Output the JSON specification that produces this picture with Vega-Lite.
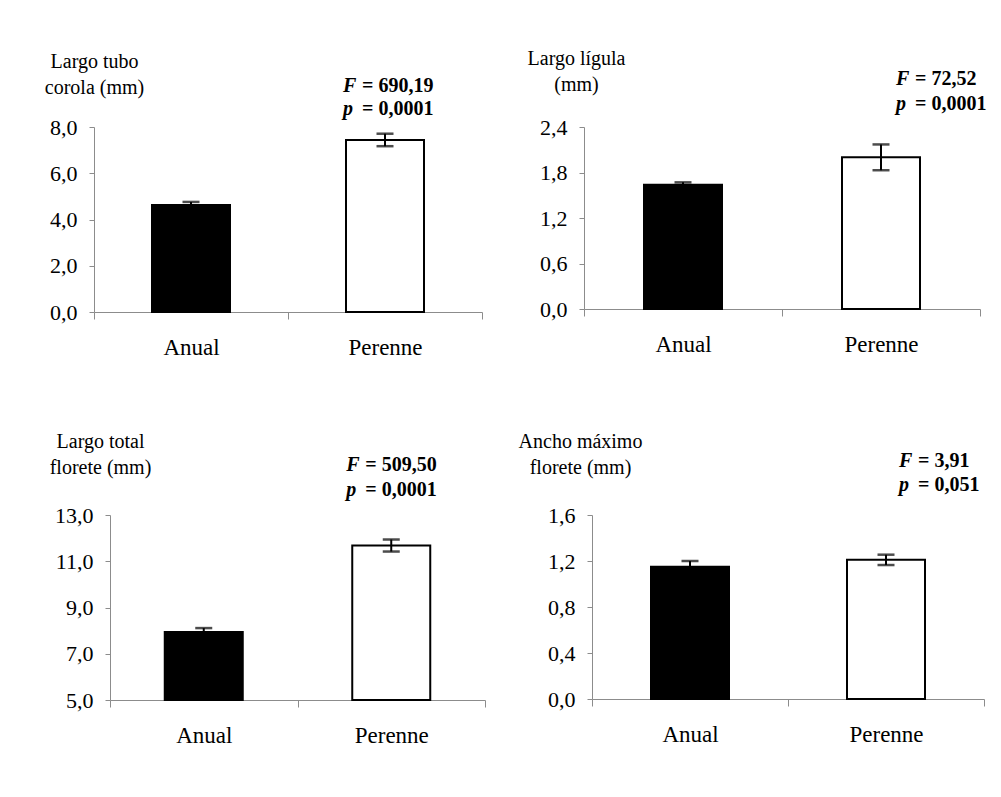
{
  "$schema": "https://vega.github.io/schema/vega-lite/v6.json",
  "background": "white",
  "padding": {"left": 44, "top": 48, "right": 5, "bottom": 5},
  "datasets": {
    "flores": [
      {"variable": "tubo", "grupo": "Anual", "media": 4.63, "ee": 0.13},
      {"variable": "tubo", "grupo": "Perenne", "media": 7.44, "ee": 0.27},
      {"variable": "ligula", "grupo": "Anual", "media": 1.64, "ee": 0.03},
      {"variable": "ligula", "grupo": "Perenne", "media": 2.0, "ee": 0.17},
      {"variable": "total", "grupo": "Anual", "media": 7.94, "ee": 0.17},
      {"variable": "total", "grupo": "Perenne", "media": 11.68, "ee": 0.26},
      {"variable": "ancho", "grupo": "Anual", "media": 1.15, "ee": 0.05},
      {"variable": "ancho", "grupo": "Perenne", "media": 1.21, "ee": 0.045}
    ]
  },
  "columns": 1,
  "align": "none",
  "spacing": 72,
  "concat": [
    {
      "spacing": 102,
      "bounds": "flush",
      "hconcat": [
        {
          "width": 388,
          "height": 185,
          "data": {"name": "flores"},
          "transform": [{"filter": "datum.variable === 'tubo'"}],
          "encoding": {
            "x": {"field": "grupo", "type": "nominal", "sort": ["Anual", "Perenne"], "title": null, "scale": {"paddingInner": 0, "paddingOuter": 0}},
            "y": {
              "field": "media", "type": "quantitative", "stack": null,
              "scale": {"domain": [0, 8]},
              "axis": {
                "values": [0, 2, 4, 6, 8],
                "labelExpr": "replace(format(datum.value, '.1f'), '.', ',')",
                "title": ["Largo tubo", "corola (mm)"],
                "titleX": 0, "titleY": -60
              }
            }
          },
          "layer": [
            {
              "mark": {"type": "bar", "size": 78, "stroke": "black", "strokeWidth": 2},
              "encoding": {
                "fill": {"field": "grupo", "type": "nominal", "scale": {"domain": ["Anual", "Perenne"], "range": ["black", "white"]}, "legend": null}
              }
            },
            {
              "mark": {"type": "errorbar", "ticks": {"size": 17, "thickness": 2.5, "color": "black"}, "rule": {"strokeWidth": 2, "color": "black"}},
              "encoding": {"yError": {"field": "ee"}}
            },
            {
              "data": {"values": [{}]},
              "mark": {"type": "text", "text": ["F", "p"], "fontStyle": "italic", "fontWeight": "bold", "align": "left", "dx": -42, "y": -35, "lineHeight": 23},
              "encoding": {"x": {"datum": "Perenne"}, "y": null}
            },
            {
              "data": {"values": [{}]},
              "mark": {"type": "text", "text": ["= 690,19", "= 0,0001"], "fontWeight": "bold", "align": "left", "dx": -23, "y": -35, "lineHeight": 23},
              "encoding": {"x": {"datum": "Perenne"}, "y": null}
            }
          ]
        },
        {
          "width": 396,
          "height": 182,
          "data": {"name": "flores"},
          "transform": [{"filter": "datum.variable === 'ligula'"}],
          "encoding": {
            "x": {"field": "grupo", "type": "nominal", "sort": ["Anual", "Perenne"], "title": null, "scale": {"paddingInner": 0, "paddingOuter": 0}},
            "y": {
              "field": "media", "type": "quantitative", "stack": null,
              "scale": {"domain": [0, 2.4]},
              "axis": {
                "values": [0, 0.6, 1.2, 1.8, 2.4],
                "labelExpr": "replace(format(datum.value, '.1f'), '.', ',')",
                "title": ["Largo lígula", "(mm)"],
                "titleX": -8, "titleY": -63
              }
            }
          },
          "layer": [
            {
              "mark": {"type": "bar", "size": 78, "stroke": "black", "strokeWidth": 2},
              "encoding": {
                "fill": {"field": "grupo", "type": "nominal", "scale": {"domain": ["Anual", "Perenne"], "range": ["black", "white"]}, "legend": null}
              }
            },
            {
              "mark": {"type": "errorbar", "ticks": {"size": 17, "thickness": 2.5, "color": "black"}, "rule": {"strokeWidth": 2, "color": "black"}},
              "encoding": {"yError": {"field": "ee"}}
            },
            {
              "data": {"values": [{}]},
              "mark": {"type": "text", "text": ["F", "p"], "fontStyle": "italic", "fontWeight": "bold", "align": "left", "dx": 15, "y": -42, "lineHeight": 25},
              "encoding": {"x": {"datum": "Perenne"}, "y": null}
            },
            {
              "data": {"values": [{}]},
              "mark": {"type": "text", "text": ["= 72,52", "= 0,0001"], "fontWeight": "bold", "align": "left", "dx": 34, "y": -42, "lineHeight": 25},
              "encoding": {"x": {"datum": "Perenne"}, "y": null}
            }
          ]
        }
      ]
    },
    {
      "spacing": 107,
      "bounds": "flush",
      "hconcat": [
        {
          "width": 391,
          "height": 185,
          "data": {"name": "flores"},
          "transform": [{"filter": "datum.variable === 'total'"}],
          "encoding": {
            "x": {"field": "grupo", "type": "nominal", "sort": ["Anual", "Perenne"], "title": null, "scale": {"paddingInner": 0, "paddingOuter": 0, "range": [16, 391]}},
            "y": {
              "field": "media", "type": "quantitative", "stack": null,
              "scale": {"domain": [5, 13], "zero": false},
              "axis": {
                "offset": -16,
                "values": [5, 7, 9, 11, 13],
                "labelExpr": "replace(format(datum.value, '.1f'), '.', ',')",
                "title": ["Largo total", "florete (mm)"],
                "titleX": -10, "titleY": -68
              }
            }
          },
          "layer": [
            {
              "mark": {"type": "bar", "size": 78, "stroke": "black", "strokeWidth": 2},
              "encoding": {
                "fill": {"field": "grupo", "type": "nominal", "scale": {"domain": ["Anual", "Perenne"], "range": ["black", "white"]}, "legend": null}
              }
            },
            {
              "mark": {"type": "errorbar", "ticks": {"size": 17, "thickness": 2.5, "color": "black"}, "rule": {"strokeWidth": 2, "color": "black"}},
              "encoding": {"yError": {"field": "ee"}}
            },
            {
              "data": {"values": [{}]},
              "mark": {"type": "text", "text": ["F", "p"], "fontStyle": "italic", "fontWeight": "bold", "align": "left", "dx": -45, "y": -44, "lineHeight": 25},
              "encoding": {"x": {"datum": "Perenne"}, "y": null}
            },
            {
              "data": {"values": [{}]},
              "mark": {"type": "text", "text": ["= 509,50", "= 0,0001"], "fontWeight": "bold", "align": "left", "dx": -26, "y": -44, "lineHeight": 25},
              "encoding": {"x": {"datum": "Perenne"}, "y": null}
            }
          ]
        },
        {
          "width": 392,
          "height": 184,
          "data": {"name": "flores"},
          "transform": [{"filter": "datum.variable === 'ancho'"}],
          "encoding": {
            "x": {"field": "grupo", "type": "nominal", "sort": ["Anual", "Perenne"], "title": null, "scale": {"paddingInner": 0, "paddingOuter": 0}},
            "y": {
              "field": "media", "type": "quantitative", "stack": null,
              "scale": {"domain": [0, 1.6]},
              "axis": {
                "values": [0, 0.4, 0.8, 1.2, 1.6],
                "labelExpr": "replace(format(datum.value, '.1f'), '.', ',')",
                "title": ["Ancho máximo", "florete (mm)"],
                "titleX": -12, "titleY": -68
              }
            }
          },
          "layer": [
            {
              "mark": {"type": "bar", "size": 78, "stroke": "black", "strokeWidth": 2},
              "encoding": {
                "fill": {"field": "grupo", "type": "nominal", "scale": {"domain": ["Anual", "Perenne"], "range": ["black", "white"]}, "legend": null}
              }
            },
            {
              "mark": {"type": "errorbar", "ticks": {"size": 17, "thickness": 2.5, "color": "black"}, "rule": {"strokeWidth": 2, "color": "black"}},
              "encoding": {"yError": {"field": "ee"}}
            },
            {
              "data": {"values": [{}]},
              "mark": {"type": "text", "text": ["F", "p"], "fontStyle": "italic", "fontWeight": "bold", "align": "left", "dx": 13, "y": -48, "lineHeight": 24},
              "encoding": {"x": {"datum": "Perenne"}, "y": null}
            },
            {
              "data": {"values": [{}]},
              "mark": {"type": "text", "text": ["= 3,91", "= 0,051"], "fontWeight": "bold", "align": "left", "dx": 32, "y": -48, "lineHeight": 24},
              "encoding": {"x": {"datum": "Perenne"}, "y": null}
            }
          ]
        }
      ]
    }
  ],
  "config": {
    "view": {"stroke": null},
    "font": "Liberation Serif",
    "text": {"font": "Liberation Serif", "fontSize": 20, "color": "black", "baseline": "alphabetic"},
    "axis": {
      "labelFont": "Liberation Serif",
      "labelColor": "black",
      "titleFont": "Liberation Serif",
      "titleFontWeight": "normal",
      "titleFontSize": 20,
      "titleColor": "black",
      "domainColor": "#8c8c8c",
      "tickColor": "#8c8c8c",
      "domainWidth": 1,
      "tickWidth": 1,
      "grid": false
    },
    "axisY": {
      "labelFontSize": 22,
      "tickSize": 5,
      "labelPadding": 12,
      "titleAngle": 0,
      "titleAlign": "center",
      "titleBaseline": "alphabetic",
      "titleLineHeight": 26
    },
    "axisX": {
      "labelFontSize": 23,
      "tickSize": 7,
      "labelPadding": 17,
      "labelAngle": 0,
      "tickBand": "extent"
    }
  }
}
